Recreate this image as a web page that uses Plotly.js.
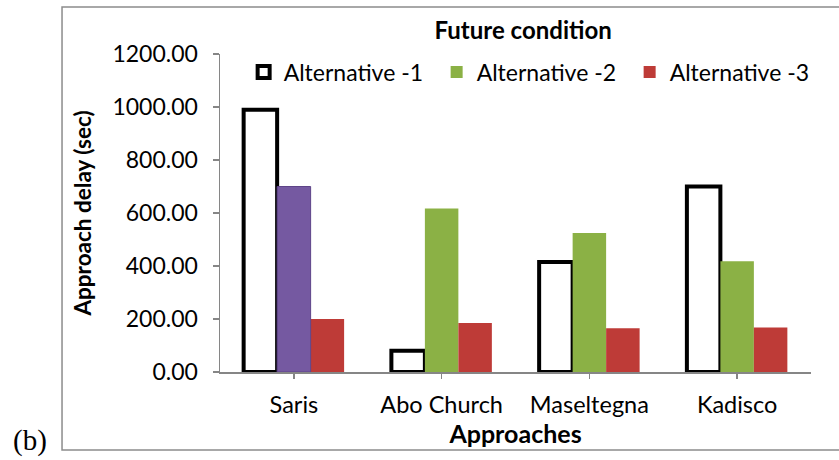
<!DOCTYPE html>
<html>
<head>
<meta charset="utf-8">
<script src="https://cdn.plot.ly/plotly-3.0.1.min.js"></script>
<style>html,body{margin:0;padding:0;background:#fff;}</style>
</head>
<body>
<div id="chart" style="width:839px;height:460px;"></div>
<script>
// Approach delay (sec) under the future condition, per approach and alternative
const approaches = ['Saris', 'Abo Church', 'Maseltegna', 'Kadisco'];
const alt1 = [990, 80, 415, 700];
const alt2 = [700, 617, 525, 418];
const alt3 = [200, 185, 165, 168];
const seriesNames = ['Alternative -1', 'Alternative -2', 'Alternative -3'];
const yTicks = [0, 200, 400, 600, 800, 1000, 1200];

const FONT = 'Lato, "Open Sans", sans-serif';

// The Saris bar of the second alternative is highlighted in purple; it shares
// the slot of its series through the common offsetgroup.
const highlightIdx = 0;
const alt2Rest = approaches.map((a, i) => i).filter(i => i !== highlightIdx);

const traces = [
  {
    type: 'bar', name: seriesNames[0], x: approaches, y: alt1, offsetgroup: 'a',
    marker: {color: '#ffffff', line: {color: '#000000', width: 4}}
  },
  {
    type: 'bar', name: seriesNames[1],
    x: alt2Rest.map(i => approaches[i]), y: alt2Rest.map(i => alt2[i]), offsetgroup: 'b',
    marker: {color: '#8bb145', line: {color: '#8bb145', width: 0}}
  },
  {
    type: 'bar', name: seriesNames[2], x: approaches, y: alt3, offsetgroup: 'c',
    marker: {color: '#be3b37', line: {width: 0}}
  },
  {
    type: 'bar', name: seriesNames[1], showlegend: false,
    x: [approaches[highlightIdx]], y: [alt2[highlightIdx]], offsetgroup: 'b',
    marker: {color: '#7559a1', line: {color: '#5e4488', width: 1}}
  }
];

const layout = {
  width: 839, height: 460,
  margin: {l: 220, r: 28, t: 54, b: 88},
  paper_bgcolor: '#ffffff', plot_bgcolor: '#ffffff',
  font: {family: FONT, size: 23, color: '#000000'},
  barmode: 'group', bargap: 0.32, bargroupgap: 0,
  showlegend: true,
  title: {
    text: '<b>Future condition</b>',
    font: {family: FONT, size: 24, color: '#000000'},
    x: 0.513, xref: 'paper', xanchor: 'center',
    y: 0.933, yref: 'container', yanchor: 'middle'
  },
  legend: {
    orientation: 'h', x: 0.04, xanchor: 'left', y: 0.943, yanchor: 'middle',
    font: {family: FONT, size: 23, color: '#000000'},
    entrywidth: 148, entrywidthmode: 'pixels',
    bgcolor: 'rgba(0,0,0,0)', traceorder: 'normal'
  },
  xaxis: {
    type: 'category', categoryorder: 'array', categoryarray: approaches,
    showline: true, linecolor: '#868686', linewidth: 1.5,
    ticks: 'outside', ticklen: 5, tickcolor: '#868686', tickwidth: 1.5,
    ticklabelstandoff: 6,
    showgrid: false, zeroline: false,
    tickfont: {family: FONT, size: 23.5, color: '#000000'},
    title: {text: '<b>Approaches</b>', font: {family: FONT, size: 25, color: '#000000'}, standoff: 0}
  },
  yaxis: {
    range: [0, 1200], tickmode: 'array', tickvals: yTicks,
    ticktext: yTicks.map(v => v.toFixed(2)),
    showline: true, linecolor: '#868686', linewidth: 1.5,
    ticks: 'outside', ticklen: 6, tickcolor: '#868686', tickwidth: 1.5,
    ticklabelstandoff: 10,
    showgrid: false, zeroline: false,
    tickfont: {family: FONT, size: 23, color: '#000000'},
    title: {text: '<b>Approach delay (sec)</b>', font: {family: FONT, size: 22.5, color: '#000000'}, standoff: 14}
  },
  shapes: [{
    type: 'rect', xref: 'paper', yref: 'paper',
    x0: -0.2673, x1: 1.12, y0: -0.2453, y1: 1.1478,
    line: {color: '#8c8c8c', width: 1.5}, fillcolor: 'rgba(0,0,0,0)', layer: 'below'
  }],
  annotations: [{
    text: '(b)', xref: 'paper', yref: 'paper', x: -0.322, y: -0.214,
    xanchor: 'center', yanchor: 'middle', showarrow: false,
    font: {family: '"Liberation Serif", "DejaVu Serif", serif', size: 29, color: '#000000'}
  }]
};

Plotly.newPlot('chart', traces, layout, {displayModeBar: false, staticPlot: true});
</script>
</body>
</html>
